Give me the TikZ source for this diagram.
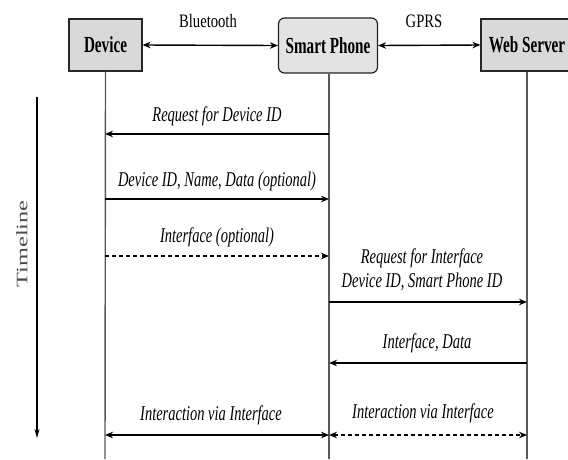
\documentclass[tikz,border=0pt]{standalone}
\usepackage{fontspec}
\setmainfont{Liberation Serif}
\usetikzlibrary{arrows.meta}
\newcommand{\cnd}[1]{\scalebox{0.69}[1]{#1}}
\newcommand{\cnb}[1]{\scalebox{0.66}[1]{#1}}
\newcommand{\cnt}[1]{\scalebox{0.77}[1]{#1}}
\tikzset{
  ent/.style={draw=black!85, line width=1.2pt, fill=black!15, minimum height=52pt, inner sep=0pt, font=\fontsize{23}{25}\selectfont\bfseries},
  phone/.style={ent, rounded corners=6pt, fill=black!11, minimum height=55pt},
  life/.style={draw=black!65, line width=1.4pt},
  msg/.style={draw=black, line width=1.4pt, -{Stealth[length=8pt,width=6.5pt]}},
  dmsg/.style={msg, dash pattern=on 4pt off 3pt},
  lbl/.style={font=\fontsize{21}{24}\selectfont\itshape, inner sep=0pt},
  tlbl/.style={font=\fontsize{19}{21}\selectfont, inner sep=0pt}
}
\begin{document}
\begin{tikzpicture}[x=1pt,y=-1pt]
\useasboundingbox[fill=white] (0,0) rectangle (568,459);
% entities
\node[ent, minimum width=73pt] (dev) at (105.5,45) {\cnb{Device}};
\node[phone, minimum width=99pt] (sp) at (328,45.5) {\cnb{Smart Phone}};
\node[ent, minimum width=92pt] (ws) at (527,45) {\cnb{Web Server}};
% connections
\draw[line width=1.4pt, {Stealth[length=8pt,width=6.5pt]}-{Stealth[length=8pt,width=6.5pt]}] (dev.east) -- (sp.west);
\draw[line width=1.4pt, {Stealth[length=8pt,width=6.5pt]}-{Stealth[length=8pt,width=6.5pt]}] (sp.east) -- (ws.west);
\node[tlbl] (bt) at (208,21) {\cnt{Bluetooth}};
\node[tlbl] (gprs) at (424,21) {\cnt{GPRS}};
% lifelines
\coordinate (dB) at (105,459);
\coordinate (sB) at (329,459);
\coordinate (wB) at (527,459);
\draw[life] (dev.south) -- (dB);
\draw[life] (sp.south -| sB) -- (sB);
\draw[life] (ws.south) -- (wB);
% timeline
\coordinate (t0) at (37,97);
\coordinate (t1) at (37,438);
\draw[line width=1.1pt, -{Stealth[length=9pt,width=5pt]}] (t0) -- (t1);
\node[font=\fontsize{16}{18}\selectfont, text=black!70, rotate=90, inner sep=0pt] (tl) at (22,244) {\scalebox{1.52}[1]{Timeline}};
% message rows
\coordinate (y1) at (0,134);
\coordinate (y2) at (0,199);
\coordinate (y3) at (0,256);
\coordinate (y4) at (0,302);
\coordinate (y5) at (0,363);
\coordinate (y6) at (0,435);
\draw[msg] (sB |- y1) -- (dB |- y1);
\node[lbl] (l1) at (217,116) {\cnd{Request for Device ID}};
\draw[msg] (dB |- y2) -- (sB |- y2);
\node[lbl] (l2) at (217,181) {\cnd{Device ID, Name, Data (optional)}};
\draw[dmsg] (dB |- y3) -- (sB |- y3);
\node[lbl] (l3) at (217,237) {\cnd{Interface (optional)}};
\draw[msg] (sB |- y4) -- (wB |- y4);
\node[lbl, align=center] (l4) at (422,270) {\cnd{Request for Interface}\\\cnd{Device ID, Smart Phone ID}};
\draw[msg] (wB |- y5) -- (sB |- y5);
\node[lbl] (l5) at (427,343) {\cnd{Interface, Data}};
\draw[msg, {Stealth[length=8pt,width=6.5pt]}-{Stealth[length=8pt,width=6.5pt]}] (dB |- y6) -- (sB |- y6);
\node[lbl] (l6) at (211,415) {\cnd{Interaction via Interface}};
\draw[dmsg, {Stealth[length=8pt,width=6.5pt]}-{Stealth[length=8pt,width=6.5pt]}] (sB |- y6) -- (wB |- y6);
\node[lbl] (l7) at (423,413) {\cnd{Interaction via Interface}};
\end{tikzpicture}
\end{document}
